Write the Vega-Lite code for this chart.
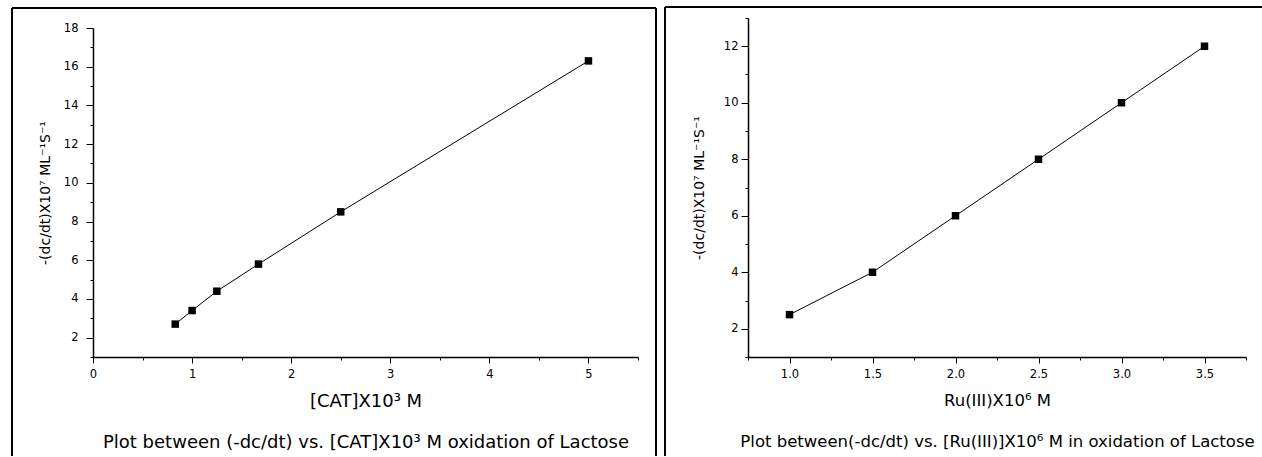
{
  "$schema": "https://vega.github.io/schema/vega-lite/v6.json",
  "padding": {"left": 10, "top": 6, "right": 0, "bottom": 0},
  "background": "white",
  "spacing": 6,
  "config": {
    "view": {"stroke": null},
    "font": "DejaVu Sans",
    "axis": {
      "domainColor": "black", "domainWidth": 1.5, "tickColor": "black", "tickWidth": 1,
      "labelColor": "black", "titleColor": "black", "labelFont": "DejaVu Sans", "labelFontSize": 11.5,
      "titleFont": "DejaVu Sans", "titleFontWeight": "normal", "grid": false,
      "labelFlush": false, "labelOverlap": false
    }
  },
  "hconcat": [
    {
      "width": 545,
      "height": 339,
      "resolve": {"axis": {"y": "independent"}},
      "layer": [
        {
          "data": {"values": [
            {"cat": 0.83, "rate": 2.7},
            {"cat": 1.0, "rate": 3.4},
            {"cat": 1.25, "rate": 4.4},
            {"cat": 1.67, "rate": 5.8},
            {"cat": 2.5, "rate": 8.5},
            {"cat": 5.0, "rate": 16.3}
          ]},
          "layer": [
            {
              "mark": {"type": "line", "color": "black", "strokeWidth": 1},
              "encoding": {
                "x": {"field": "cat", "type": "quantitative", "scale": {"domain": [0, 5.5], "nice": false, "zero": false},
                  "axis": {
                    "values": [0, 0.5, 1, 1.5, 2, 2.5, 3, 3.5, 4, 4.5, 5, 5.5],
                    "labelExpr": "datum.value % 1 === 0 ? format(datum.value, 'd') : ''",
                    "tickSize": {"condition": {"test": "datum.value % 1 === 0", "value": 6}, "value": 3},
                    "labelPadding": 5,
                    "title": ["[CAT]X10³ M", "Plot between (-dc/dt) vs. [CAT]X10³ M oxidation of Lactose"],
                    "titleFontSize": 18, "titleLineHeight": 41, "titlePadding": 13
                  }},
                "y": {"field": "rate", "type": "quantitative", "scale": {"domain": [1, 18], "range": [339, 10], "nice": false, "zero": false},
                  "axis": {
                    "orient": "left",
                    "values": [2, 4, 6, 8, 10, 12, 14, 16, 18],
                    "format": "d",
                    "tickSize": 7,
                    "labelPadding": 8,
                    "title": "-(dc/dt)X10⁷ ML⁻¹S⁻¹",
                    "titleFontSize": 14, "titlePadding": 11
                  }}
              }
            },
            {
              "mark": {"type": "point", "shape": "square", "filled": true, "color": "black", "opacity": 1, "size": 56},
              "encoding": {
                "x": {"field": "cat", "type": "quantitative"},
                "y": {"field": "rate", "type": "quantitative"}
              }
            }
          ]
        },
        {
          "data": {"values": [{}]},
          "mark": {"type": "rule", "color": "black", "strokeWidth": 2},
          "encoding": {
            "x": {"datum": -0.8175, "type": "quantitative"},
            "y": {"datum": 19.033, "type": "quantitative",
              "axis": {"orient": "left", "values": [1, 3, 5, 7, 9, 11, 13, 15, 17], "labels": false, "domain": false, "tickSize": 3, "title": null}},
            "y2": {"datum": -4.115}
          }
        },
        {
          "data": {"values": [{}]},
          "mark": {"type": "rule", "color": "black", "strokeWidth": 2},
          "encoding": {
            "x": {"datum": 5.6817, "type": "quantitative"},
            "y": {"datum": 19.033, "type": "quantitative", "axis": null},
            "y2": {"datum": -4.115}
          }
        },
        {
          "data": {"values": [{}]},
          "mark": {"type": "rule", "color": "black", "strokeWidth": 2},
          "encoding": {
            "x": {"datum": -0.8175, "type": "quantitative"},
            "x2": {"datum": 5.6817},
            "y": {"datum": 19.033, "type": "quantitative", "axis": null}
          }
        }
      ]
    },
    {
      "width": 498,
      "height": 339,
      "resolve": {"axis": {"y": "independent"}},
      "layer": [
        {
          "data": {"values": [
            {"ru": 1.0, "rate": 2.5},
            {"ru": 1.5, "rate": 4.0},
            {"ru": 2.0, "rate": 6.0},
            {"ru": 2.5, "rate": 8.0},
            {"ru": 3.0, "rate": 10.0},
            {"ru": 3.5, "rate": 12.0}
          ]},
          "layer": [
            {
              "mark": {"type": "line", "color": "black", "strokeWidth": 1},
              "encoding": {
                "x": {"field": "ru", "type": "quantitative", "scale": {"domain": [0.75, 3.75], "nice": false, "zero": false},
                  "axis": {
                    "values": [0.75, 1, 1.25, 1.5, 1.75, 2, 2.25, 2.5, 2.75, 3, 3.25, 3.5, 3.75],
                    "labelExpr": "(datum.value * 2) % 1 === 0 ? format(datum.value, '.1f') : ''",
                    "tickSize": {"condition": {"test": "(datum.value * 2) % 1 === 0", "value": 6}, "value": 3},
                    "labelPadding": 5,
                    "title": ["Ru(III)X10⁶ M", "Plot between(-dc/dt) vs. [Ru(III)]X10⁶ M in oxidation of Lactose"],
                    "titleFontSize": 16.5, "titleLineHeight": 41, "titlePadding": 13
                  }},
                "y": {"field": "rate", "type": "quantitative", "scale": {"domain": [1, 13], "nice": false, "zero": false},
                  "axis": {
                    "orient": "left",
                    "values": [2, 4, 6, 8, 10, 12],
                    "format": "d",
                    "tickSize": 7,
                    "labelPadding": 3,
                    "title": "-(dc/dt)X10⁷ ML⁻¹S⁻¹",
                    "titleFontSize": 14, "titlePadding": 17
                  }}
              }
            },
            {
              "mark": {"type": "point", "shape": "square", "filled": true, "color": "black", "opacity": 1, "size": 56},
              "encoding": {
                "x": {"field": "ru", "type": "quantitative"},
                "y": {"field": "rate", "type": "quantitative"}
              }
            }
          ]
        },
        {
          "data": {"values": [{}]},
          "mark": {"type": "rule", "color": "black", "strokeWidth": 2},
          "encoding": {
            "x": {"datum": 0.25, "type": "quantitative"},
            "y": {"datum": 13.389, "type": "quantitative",
              "axis": {"orient": "left", "values": [1, 3, 5, 7, 9, 11, 13], "labels": false, "domain": false, "tickSize": 3, "title": null}},
            "y2": {"datum": -2.504}
          }
        },
        {
          "data": {"values": [{}]},
          "mark": {"type": "rule", "color": "black", "strokeWidth": 2},
          "encoding": {
            "x": {"datum": 0.25, "type": "quantitative"},
            "x2": {"datum": 3.8524},
            "y": {"datum": 13.389, "type": "quantitative", "axis": null}
          }
        }
      ]
    }
  ]
}
